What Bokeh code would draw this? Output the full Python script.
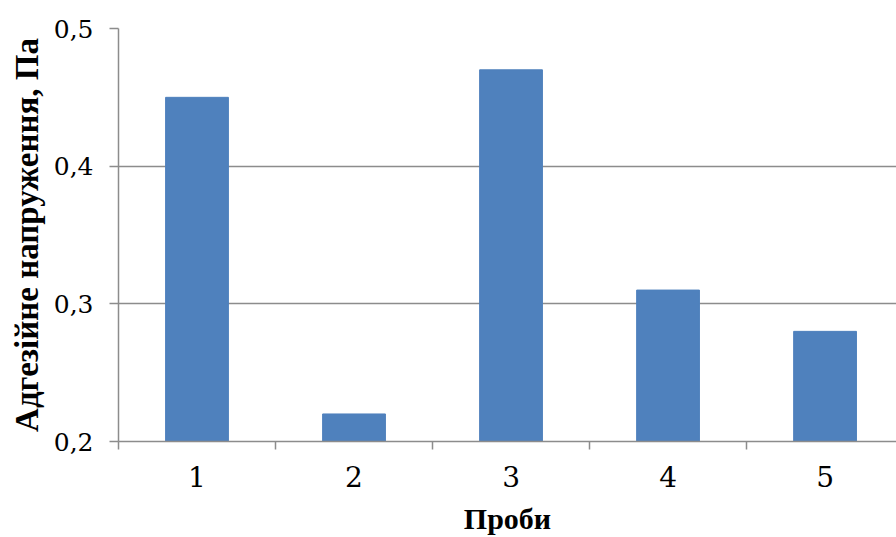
from bokeh.plotting import figure
from bokeh.models import Range1d, FixedTicker, CustomJSTickFormatter
from bokeh.embed import file_html
from bokeh.resources import INLINE

# Data
categories = [1, 2, 3, 4, 5]
values = [0.45, 0.22, 0.47, 0.31, 0.28]
category_labels = ["1", "2", "3", "4", "5"]
y_ticks = [0.2, 0.3, 0.4, 0.5]
y_tick_labels = ["0,2", "0,3", "0,4", "0,5"]
x_title = "Проби"
y_title = "Адгезійне напруження, Па"

FONT = "Liberation Serif"
TICK_FONT = "DejaVu Serif"
GRID = "#8c8c8c"
BAR = "#4F81BD"

LOOKUP = """
let best = 0, bd = Infinity;
for (let i = 0; i < tvals.length; i++) {
  const d = Math.abs(tvals[i] - tick);
  if (d < bd) { bd = d; best = i; }
}
return tlabels[best];
"""

p = figure(width=896, height=537, output_backend="svg", toolbar_location=None,
           x_range=Range1d(0.5, 5.455), y_range=Range1d(0.2, 0.5),
           min_border_left=118, min_border_right=0, min_border_top=28,
           min_border_bottom=96)
p.outline_line_color = None
p.background_fill_color = "white"
p.border_fill_color = "white"

p.vbar(x=categories, top=values, bottom=0.2, width=0.4,
       fill_color=BAR, line_color=BAR)

# Y axis
p.yaxis.ticker = FixedTicker(ticks=y_ticks)
p.yaxis.formatter = CustomJSTickFormatter(args=dict(tvals=y_ticks, tlabels=y_tick_labels), code=LOOKUP)
p.yaxis.major_tick_out = 9
p.yaxis.major_tick_in = 0
p.yaxis.minor_tick_line_color = None
p.yaxis.major_tick_line_color = GRID
p.yaxis.axis_line_color = GRID
p.yaxis.axis_line_width = 1.5
p.yaxis.major_tick_line_width = 1.5
p.yaxis.major_label_text_font = TICK_FONT
p.yaxis.major_label_text_font_size = "25px"
p.yaxis.major_label_text_color = "black"
p.yaxis.major_label_standoff = 16
p.yaxis.axis_label = y_title
p.yaxis.axis_label_text_font = FONT
p.yaxis.axis_label_text_font_style = "bold"
p.yaxis.axis_label_text_font_size = "33px"
p.yaxis.axis_label_text_color = "black"
p.yaxis.axis_label_standoff = 6

# X axis
p.xaxis.ticker = FixedTicker(ticks=categories,
                             minor_ticks=[c - 0.5 for c in categories] + [categories[-1] + 0.5])
p.xaxis.formatter = CustomJSTickFormatter(args=dict(tvals=categories, tlabels=category_labels), code=LOOKUP)
p.xaxis.major_tick_line_color = None
p.xaxis.minor_tick_line_color = GRID
p.xaxis.minor_tick_out = 8
p.xaxis.minor_tick_in = 0
p.xaxis.minor_tick_line_width = 1.5
p.xaxis.axis_line_color = GRID
p.xaxis.axis_line_width = 1.5
p.xaxis.major_label_text_font = TICK_FONT
p.xaxis.major_label_text_font_size = "28px"
p.xaxis.major_label_text_color = "black"
p.xaxis.major_label_standoff = 16
p.xaxis.axis_label = x_title
p.xaxis.axis_label_text_font = FONT
p.xaxis.axis_label_text_font_style = "bold"
p.xaxis.axis_label_text_font_size = "30px"
p.xaxis.axis_label_text_color = "black"
p.xaxis.axis_label_standoff = 12

p.xgrid.grid_line_color = None
p.ygrid.ticker = FixedTicker(ticks=y_ticks)
p.ygrid.grid_line_color = GRID
p.ygrid.grid_line_width = 1.5

open("out.html", "w").write(file_html(p, INLINE))
